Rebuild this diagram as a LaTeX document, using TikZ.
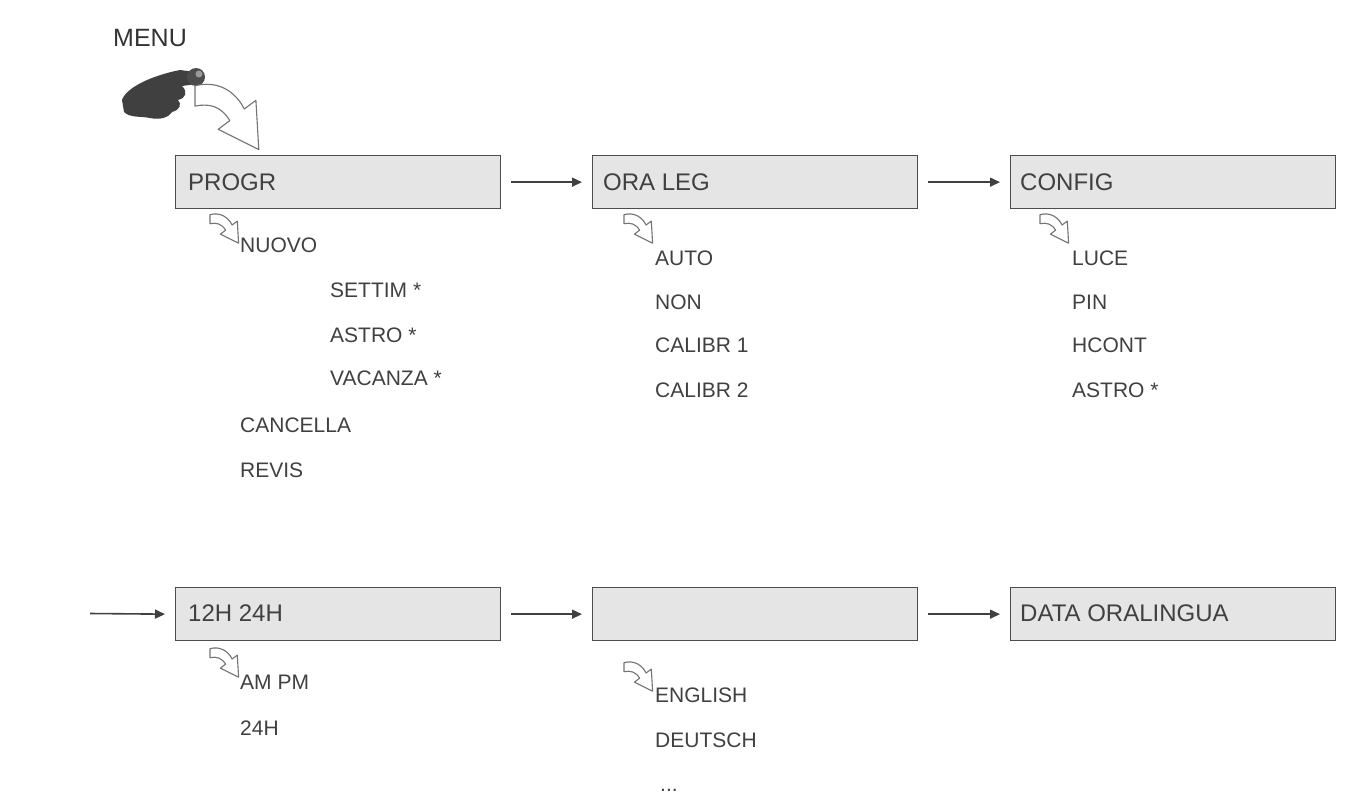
\documentclass[tikz,border=0pt]{standalone}
\usepackage{fontspec}
\setmainfont{Liberation Sans}
\usetikzlibrary{arrows.meta}
\begin{document}
\begin{tikzpicture}[x=1pt,y=-1pt,
  box/.style={draw=black!70,line width=1.3pt,fill=black!10,minimum width=325pt,minimum height=53pt,anchor=north west,inner sep=0pt},
  lbl/.style={font=\fontsize{24}{24}\selectfont,text=black!75,anchor=west,inner sep=0pt},
  item/.style={font=\fontsize{21}{21}\selectfont,text=black!75,anchor=west,inner sep=0pt},
  conn/.style={-{Triangle[length=10pt,width=9pt]},line width=1.6pt,black!75},
  pics/hollow/.style={code={\draw[black!55,line width=1.1pt,fill=white,line join=round]
    (0,2) .. controls (8,0) and (14,4) .. (17,10) -- (21,7) -- (22,24) -- (8,17) -- (12,14) .. controls (9,9) and (5,8) .. (0,9) -- cycle;}}]
\useasboundingbox (0,0) rectangle (1346,806);
% boxes
\node[box] (b1) at (175,155) {}; \node[lbl] at (188,182) {PROGR};
\node[box] (b2) at (592,155) {}; \node[lbl] at (603,182) {ORA LEG};
\node[box] (b3) at (1010,155) {}; \node[lbl] at (1020,182) {CONFIG};
\node[box] (b4) at (175,587) {}; \node[lbl] at (188,613) {12H 24H};
\node[box] (b5) at (592,587) {};
\node[box] (b6) at (1010,587) {}; \node[lbl] at (1020,613) {DATA ORALINGUA};
\coordinate (s0) at (90,613.5);
\draw[conn] (b1.east) ++(10,0) -- ([xshift=-10pt]b2.west);
\draw[conn] (b2.east) ++(10,0) -- ([xshift=-10pt]b3.west);
\draw[conn] (s0) -- ([xshift=-10pt]b4.west);
\draw[conn] (b4.east) ++(10,0) -- ([xshift=-10pt]b5.west);
\draw[conn] (b5.east) ++(10,0) -- ([xshift=-10pt]b6.west);
% menu
\node[font=\fontsize{25}{25}\selectfont,text=black!80,anchor=west,inner sep=0pt] (menu) at (113,38) {MENU};
% hand
\fill[black!75] (122,100) .. controls (126,88) and (150,76) .. (180,70) -- (196,72) -- (196,84) -- (182,86)
  .. controls (188,92) and (186,98) .. (178,100) .. controls (182,104) and (180,110) .. (172,112)
  .. controls (168,118) and (160,120) .. (150,118) .. controls (140,116) and (130,118) .. (124,112) -- cycle;
\fill[black!70] (196,77) circle (9);
\fill[black!40] (199,74) circle (3.5);
\pic[scale=2.9] at (195,80) {hollow};
% small arrows
\pic[scale=1.3] at (210,212) {hollow};
\pic[scale=1.3] at (624,212) {hollow};
\pic[scale=1.3] at (1040,212) {hollow};
\pic[scale=1.3] at (210,646) {hollow};
\pic[scale=1.3] at (624,660) {hollow};
% items
\node[item] at (240,245) {NUOVO};
\node[item] at (330,290) {SETTIM *};
\node[item] at (330,335) {ASTRO *};
\node[item] at (330,378) {VACANZA *};
\node[item] at (240,425) {CANCELLA};
\node[item] at (240,470) {REVIS};
\node[item] at (655,258) {AUTO};
\node[item] at (655,302) {NON};
\node[item] at (655,345) {CALIBR 1};
\node[item] at (655,390) {CALIBR 2};
\node[item] at (1072,258) {LUCE};
\node[item] at (1072,302) {PIN};
\node[item] at (1072,345) {HCONT};
\node[item] at (1072,390) {ASTRO *};
\node[item] at (240,682) {AM PM};
\node[item] at (240,728) {24H};
\node[item] at (655,695) {ENGLISH};
\node[item] at (655,740) {DEUTSCH};
\node[item] at (660,790) {...};
\end{tikzpicture}
\end{document}
